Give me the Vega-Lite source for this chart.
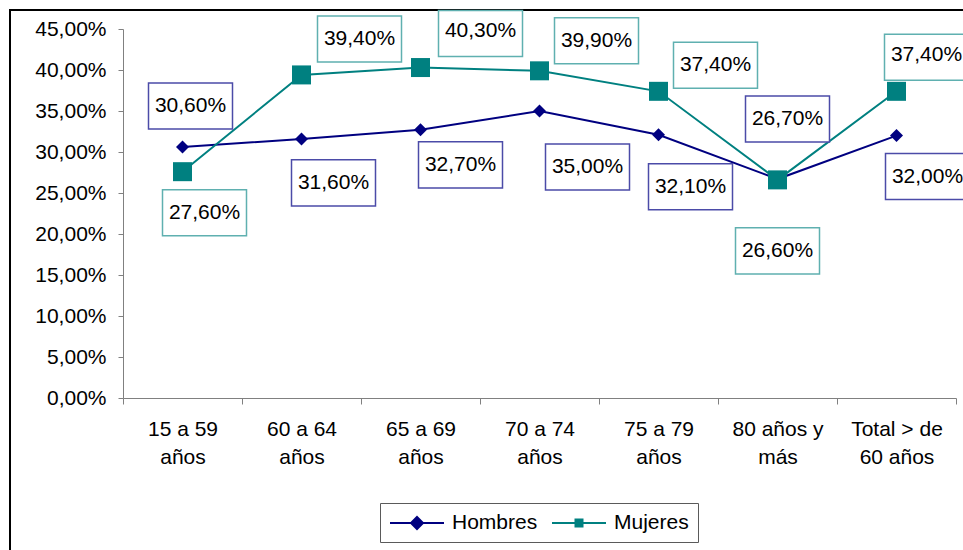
{
  "$schema": "https://vega.github.io/schema/vega-lite/v6.json",
  "autosize": "none",
  "padding": {"left": 10, "top": 10, "right": -3, "bottom": -3},
  "width": 956,
  "height": 543,
  "config": {
    "view": {"stroke": "#000000", "strokeWidth": 2},
    "font": "Liberation Sans",
    "text": {"font": "Liberation Sans"}
  },
  "data": {
    "values": [
      {"grupo": "15 a 59 años", "serie": "Hombres", "valor": 0.306},
      {"grupo": "60 a 64 años", "serie": "Hombres", "valor": 0.316},
      {"grupo": "65 a 69 años", "serie": "Hombres", "valor": 0.327},
      {"grupo": "70 a 74 años", "serie": "Hombres", "valor": 0.35},
      {"grupo": "75 a 79 años", "serie": "Hombres", "valor": 0.321},
      {"grupo": "80 años y más", "serie": "Hombres", "valor": 0.267},
      {"grupo": "Total > de 60 años", "serie": "Hombres", "valor": 0.32},
      {"grupo": "15 a 59 años", "serie": "Mujeres", "valor": 0.276},
      {"grupo": "60 a 64 años", "serie": "Mujeres", "valor": 0.394},
      {"grupo": "65 a 69 años", "serie": "Mujeres", "valor": 0.403},
      {"grupo": "70 a 74 años", "serie": "Mujeres", "valor": 0.399},
      {"grupo": "75 a 79 años", "serie": "Mujeres", "valor": 0.374},
      {"grupo": "80 años y más", "serie": "Mujeres", "valor": 0.266},
      {"grupo": "Total > de 60 años", "serie": "Mujeres", "valor": 0.374}
    ]
  },
  "transform": [
    {"calculate": "replace(format(datum.valor*100, '.2f'), '.', ',') + '%'", "as": "lbl"}
  ],
  "encoding": {
    "x": {
      "field": "grupo", "type": "nominal",
      "sort": ["15 a 59 años", "60 a 64 años", "65 a 69 años", "70 a 74 años", "75 a 79 años", "80 años y más", "Total > de 60 años"],
      "scale": {"type": "band", "range": [113, 946], "paddingInner": 0, "paddingOuter": 0},
      "axis": {
        "title": null, "orient": "bottom", "offset": -155, "tickBand": "extent",
        "tickSize": 6, "labelPadding": 14, "labelFontSize": 21, "labelLineHeight": 28,
        "labelAngle": 0, "labelColor": "#000000", "labelFont": "Liberation Sans",
        "domainColor": "#808080", "tickColor": "#808080", "grid": false, "labelOverlap": false,
        "labelExpr": "!datum.label ? '' : datum.label == '80 años y más' ? ['80 años y', 'más'] : datum.label == 'Total > de 60 años' ? ['Total > de', '60 años'] : [slice(datum.label, 0, 7), 'años']"
      }
    },
    "y": {
      "field": "valor", "type": "quantitative",
      "scale": {"domain": [0, 0.45], "range": [388, 19], "nice": false, "zero": true},
      "axis": {
        "title": null, "offset": -113,
        "values": [0, 0.05, 0.1, 0.15, 0.2, 0.25, 0.3, 0.35, 0.4, 0.45],
        "labelExpr": "replace(format(datum.value*100, '.2f'), '.', ',') + '%'",
        "tickSize": 5, "labelPadding": 12, "labelFontSize": 21, "labelColor": "#000000",
        "labelFont": "Liberation Sans", "domainColor": "#808080", "tickColor": "#808080", "grid": false
      }
    }
  },
  "layer": [
    {"transform": [{"filter": "datum.serie == 'Hombres'"}], "mark": {"type": "line", "color": "#000080", "strokeWidth": 2}},
    {"transform": [{"filter": "datum.serie == 'Mujeres'"}], "mark": {"type": "line", "color": "#008080", "strokeWidth": 2}},
    {"transform": [{"filter": "datum.serie == 'Hombres'"}], "mark": {"type": "point", "shape": "diamond", "size": 169, "filled": true, "color": "#000080", "opacity": 1}},
    {"transform": [{"filter": "datum.serie == 'Mujeres'"}], "mark": {"type": "point", "shape": "square", "size": 361, "filled": true, "color": "#008080", "opacity": 1}},
    {
      "mark": {"type": "point", "size": 400, "filled": true, "opacity": 0, "strokeWidth": 2},
      "encoding": {
        "fill": {"field": "serie", "type": "nominal", "scale": {"domain": ["Hombres", "Mujeres"], "range": ["#000080", "#008080"]},
          "legend": {"title": null, "orient": "none", "legendX": 370, "legendY": 493, "direction": "horizontal",
            "symbolOpacity": 1, "symbolSize": 400, "symbolStrokeWidth": 2, "labelOffset": 41, "columnPadding": 10,
            "labelFontSize": 21, "labelFont": "Liberation Sans", "labelColor": "#000000", "padding": 9,
            "strokeColor": "#5a5a5a", "fillColor": "#ffffff",
            "encode": {"symbols": {"update": {"fill": {"scale": "fill", "field": "value"}, "fillOpacity": {"value": 1}}}}}},
        "stroke": {"field": "serie", "type": "nominal", "scale": {"domain": ["Hombres", "Mujeres"], "range": ["#000080", "#008080"]}},
        "shape": {"field": "serie", "type": "nominal", "scale": {"domain": ["Hombres", "Mujeres"], "range": ["M-1,0H4.4M1.7,-0.6L2.3,0L1.7,0.6L1.1,0Z", "M-1,0H4.4M1.35,-0.35H2.05V0.35H1.35Z"]}}
      }
    },
    {"transform": [{"filter": "datum.serie == 'Hombres' && datum.grupo == '15 a 59 años'"}], "layer": [
      {"mark": {"type": "point", "shape": "M-1,-0.548H1V0.548H-1Z", "size": 7056, "filled": true, "fill": "#ffffff", "stroke": "#4b4ba8", "strokeWidth": 1.5, "opacity": 1, "xOffset": 8, "yOffset": -41}},
      {"mark": {"type": "text", "fontSize": 21, "baseline": "middle", "align": "center", "color": "#000000", "xOffset": 8, "yOffset": -41}, "encoding": {"text": {"field": "lbl"}}}
    ]},
    {"transform": [{"filter": "datum.serie == 'Hombres' && datum.grupo == '60 a 64 años'"}], "layer": [
      {"mark": {"type": "point", "shape": "M-1,-0.548H1V0.548H-1Z", "size": 7056, "filled": true, "fill": "#ffffff", "stroke": "#4b4ba8", "strokeWidth": 1.5, "opacity": 1, "xOffset": 32, "yOffset": 44}},
      {"mark": {"type": "text", "fontSize": 21, "baseline": "middle", "align": "center", "color": "#000000", "xOffset": 32, "yOffset": 44}, "encoding": {"text": {"field": "lbl"}}}
    ]},
    {"transform": [{"filter": "datum.serie == 'Hombres' && datum.grupo == '65 a 69 años'"}], "layer": [
      {"mark": {"type": "point", "shape": "M-1,-0.548H1V0.548H-1Z", "size": 7056, "filled": true, "fill": "#ffffff", "stroke": "#4b4ba8", "strokeWidth": 1.5, "opacity": 1, "xOffset": 40, "yOffset": 35}},
      {"mark": {"type": "text", "fontSize": 21, "baseline": "middle", "align": "center", "color": "#000000", "xOffset": 40, "yOffset": 35}, "encoding": {"text": {"field": "lbl"}}}
    ]},
    {"transform": [{"filter": "datum.serie == 'Hombres' && datum.grupo == '70 a 74 años'"}], "layer": [
      {"mark": {"type": "point", "shape": "M-1,-0.548H1V0.548H-1Z", "size": 7056, "filled": true, "fill": "#ffffff", "stroke": "#4b4ba8", "strokeWidth": 1.5, "opacity": 1, "xOffset": 48, "yOffset": 56}},
      {"mark": {"type": "text", "fontSize": 21, "baseline": "middle", "align": "center", "color": "#000000", "xOffset": 48, "yOffset": 56}, "encoding": {"text": {"field": "lbl"}}}
    ]},
    {"transform": [{"filter": "datum.serie == 'Hombres' && datum.grupo == '75 a 79 años'"}], "layer": [
      {"mark": {"type": "point", "shape": "M-1,-0.548H1V0.548H-1Z", "size": 7056, "filled": true, "fill": "#ffffff", "stroke": "#4b4ba8", "strokeWidth": 1.5, "opacity": 1, "xOffset": 32, "yOffset": 52}},
      {"mark": {"type": "text", "fontSize": 21, "baseline": "middle", "align": "center", "color": "#000000", "xOffset": 32, "yOffset": 52}, "encoding": {"text": {"field": "lbl"}}}
    ]},
    {"transform": [{"filter": "datum.serie == 'Hombres' && datum.grupo == '80 años y más'"}], "layer": [
      {"mark": {"type": "point", "shape": "M-1,-0.548H1V0.548H-1Z", "size": 7056, "filled": true, "fill": "#ffffff", "stroke": "#4b4ba8", "strokeWidth": 1.5, "opacity": 1, "xOffset": 10, "yOffset": -60}},
      {"mark": {"type": "text", "fontSize": 21, "baseline": "middle", "align": "center", "color": "#000000", "xOffset": 10, "yOffset": -60}, "encoding": {"text": {"field": "lbl"}}}
    ]},
    {"transform": [{"filter": "datum.serie == 'Hombres' && datum.grupo == 'Total > de 60 años'"}], "layer": [
      {"mark": {"type": "point", "shape": "M-1,-0.548H1V0.548H-1Z", "size": 7056, "filled": true, "fill": "#ffffff", "stroke": "#4b4ba8", "strokeWidth": 1.5, "opacity": 1, "xOffset": 31, "yOffset": 41}},
      {"mark": {"type": "text", "fontSize": 21, "baseline": "middle", "align": "center", "color": "#000000", "xOffset": 31, "yOffset": 41}, "encoding": {"text": {"field": "lbl"}}}
    ]},
    {"transform": [{"filter": "datum.serie == 'Mujeres' && datum.grupo == '15 a 59 años'"}], "layer": [
      {"mark": {"type": "point", "shape": "M-1,-0.548H1V0.548H-1Z", "size": 7056, "filled": true, "fill": "#ffffff", "stroke": "#5fb0b0", "strokeWidth": 1.5, "opacity": 1, "xOffset": 22, "yOffset": 41}},
      {"mark": {"type": "text", "fontSize": 21, "baseline": "middle", "align": "center", "color": "#000000", "xOffset": 22, "yOffset": 41}, "encoding": {"text": {"field": "lbl"}}}
    ]},
    {"transform": [{"filter": "datum.serie == 'Mujeres' && datum.grupo == '60 a 64 años'"}], "layer": [
      {"mark": {"type": "point", "shape": "M-1,-0.548H1V0.548H-1Z", "size": 7056, "filled": true, "fill": "#ffffff", "stroke": "#5fb0b0", "strokeWidth": 1.5, "opacity": 1, "xOffset": 58, "yOffset": -36}},
      {"mark": {"type": "text", "fontSize": 21, "baseline": "middle", "align": "center", "color": "#000000", "xOffset": 58, "yOffset": -36}, "encoding": {"text": {"field": "lbl"}}}
    ]},
    {"transform": [{"filter": "datum.serie == 'Mujeres' && datum.grupo == '65 a 69 años'"}], "layer": [
      {"mark": {"type": "point", "shape": "M-1,-0.548H1V0.548H-1Z", "size": 7056, "filled": true, "fill": "#ffffff", "stroke": "#5fb0b0", "strokeWidth": 1.5, "opacity": 1, "xOffset": 60, "yOffset": -34}},
      {"mark": {"type": "text", "fontSize": 21, "baseline": "middle", "align": "center", "color": "#000000", "xOffset": 60, "yOffset": -37}, "encoding": {"text": {"field": "lbl"}}}
    ]},
    {"transform": [{"filter": "datum.serie == 'Mujeres' && datum.grupo == '70 a 74 años'"}], "layer": [
      {"mark": {"type": "point", "shape": "M-1,-0.548H1V0.548H-1Z", "size": 7056, "filled": true, "fill": "#ffffff", "stroke": "#5fb0b0", "strokeWidth": 1.5, "opacity": 1, "xOffset": 57, "yOffset": -30}},
      {"mark": {"type": "text", "fontSize": 21, "baseline": "middle", "align": "center", "color": "#000000", "xOffset": 57, "yOffset": -30}, "encoding": {"text": {"field": "lbl"}}}
    ]},
    {"transform": [{"filter": "datum.serie == 'Mujeres' && datum.grupo == '75 a 79 años'"}], "layer": [
      {"mark": {"type": "point", "shape": "M-1,-0.548H1V0.548H-1Z", "size": 7056, "filled": true, "fill": "#ffffff", "stroke": "#5fb0b0", "strokeWidth": 1.5, "opacity": 1, "xOffset": 57, "yOffset": -26}},
      {"mark": {"type": "text", "fontSize": 21, "baseline": "middle", "align": "center", "color": "#000000", "xOffset": 57, "yOffset": -26}, "encoding": {"text": {"field": "lbl"}}}
    ]},
    {"transform": [{"filter": "datum.serie == 'Mujeres' && datum.grupo == '80 años y más'"}], "layer": [
      {"mark": {"type": "point", "shape": "M-1,-0.548H1V0.548H-1Z", "size": 7056, "filled": true, "fill": "#ffffff", "stroke": "#5fb0b0", "strokeWidth": 1.5, "opacity": 1, "xOffset": 0, "yOffset": 71}},
      {"mark": {"type": "text", "fontSize": 21, "baseline": "middle", "align": "center", "color": "#000000", "xOffset": 0, "yOffset": 71}, "encoding": {"text": {"field": "lbl"}}}
    ]},
    {"transform": [{"filter": "datum.serie == 'Mujeres' && datum.grupo == 'Total > de 60 años'"}], "layer": [
      {"mark": {"type": "point", "shape": "M-1,-0.548H1V0.548H-1Z", "size": 7056, "filled": true, "fill": "#ffffff", "stroke": "#5fb0b0", "strokeWidth": 1.5, "opacity": 1, "xOffset": 30, "yOffset": -34}},
      {"mark": {"type": "text", "fontSize": 21, "baseline": "middle", "align": "center", "color": "#000000", "xOffset": 30, "yOffset": -36}, "encoding": {"text": {"field": "lbl"}}}
    ]}
  ]
}
